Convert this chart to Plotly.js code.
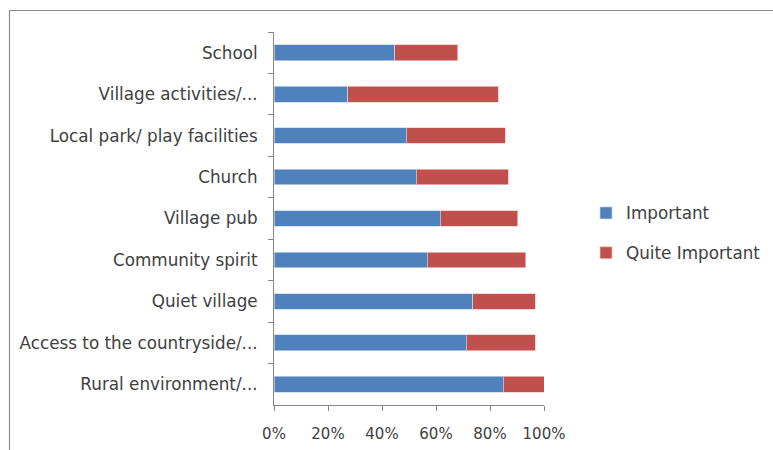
<!DOCTYPE html>
<html>
<head>
<meta charset="utf-8">
<script src="https://cdn.plot.ly/plotly-3.0.1.min.js"></script>
<style>
html,body{margin:0;padding:0;background:#fff;}
#chart{width:773px;height:450px;}
</style>
</head>
<body>
<div id="chart"></div>
<script>
var categories = ["School", "Village activities/...", "Local park/ play facilities", "Church", "Village pub", "Community spirit", "Quiet village", "Access to the countryside/...", "Rural environment/..."];
var important = [0.448, 0.274, 0.490, 0.526, 0.616, 0.568, 0.736, 0.712, 0.849];
var quiteImportant = [0.233, 0.557, 0.366, 0.341, 0.286, 0.364, 0.232, 0.256, 0.151];
var seriesNames = ["Important", "Quite Important"];
var xTickVals = [0, 0.2, 0.4, 0.6, 0.8, 1.0];
var xTickText = ["0%", "20%", "40%", "60%", "80%", "100%"];

var L = 274, R = 544, T = 32, B = 405, W = 773, H = 450;
function px(x){ return (x - L) / (R - L); }
function py(y){ return (B - y) / (B - T); }

var font = {family: "DejaVu Sans, Verdana, sans-serif", size: 15, color: "#404040"};
var labelFont = {family: "DejaVu Sans, Verdana, sans-serif", size: 16.8, color: "#404040"};

var traces = [
  {type: "bar", orientation: "h", name: seriesNames[0], y: categories, x: important,
   marker: {color: "#4F81BD", line: {color: "rgba(200,215,235,0.9)", width: 0.8}},
   legendgroup: "a", hoverinfo: "x+y"},
  {type: "bar", orientation: "h", name: seriesNames[1], y: categories, x: quiteImportant,
   marker: {color: "#C0504D", line: {color: "rgba(240,200,200,0.9)", width: 0.8}},
   legendgroup: "b", hoverinfo: "x+y"}
];

var layout = {
  width: W, height: H,
  margin: {l: L, r: W - R, t: T, b: H - B, pad: 0, autoexpand: false},
  paper_bgcolor: "#fff", plot_bgcolor: "#fff",
  barmode: "stack", bargap: 0.62,
  font: font,
  showlegend: true,
  legend: {x: px(586), xanchor: "left", y: py(233), yanchor: "middle",
           traceorder: "grouped", tracegroupgap: 15, font: labelFont,
           itemwidth: 30, bgcolor: "rgba(0,0,0,0)"},
  xaxis: {range: [0, 1], tickvals: xTickVals, ticktext: xTickText, automargin: false,
          showgrid: false, zeroline: false, showline: true, linecolor: "#868686", linewidth: 1,
          ticks: "outside", ticklen: 5, tickcolor: "#868686", tickfont: font,
          ticklabelstandoff: 10, fixedrange: true},
  yaxis: {type: "category", categoryorder: "array", categoryarray: categories, autorange: "reversed",
          automargin: false,
          showgrid: false, zeroline: false, showline: true, linecolor: "#868686", linewidth: 1,
          ticks: "outside", ticklen: 5, tickcolor: "#868686", tickson: "boundaries",
          tickfont: labelFont, ticklabelstandoff: 12, fixedrange: true},
  shapes: [
    {type: "rect", xref: "paper", yref: "paper", x0: px(9.5), x1: px(800), y0: py(470), y1: py(10.5),
     line: {color: "#8c8c8c", width: 1.2}, fillcolor: "rgba(0,0,0,0)", layer: "below"}
  ]
};

Plotly.newPlot("chart", traces, layout, {displayModeBar: false, staticPlot: true});
</script>
</body>
</html>
